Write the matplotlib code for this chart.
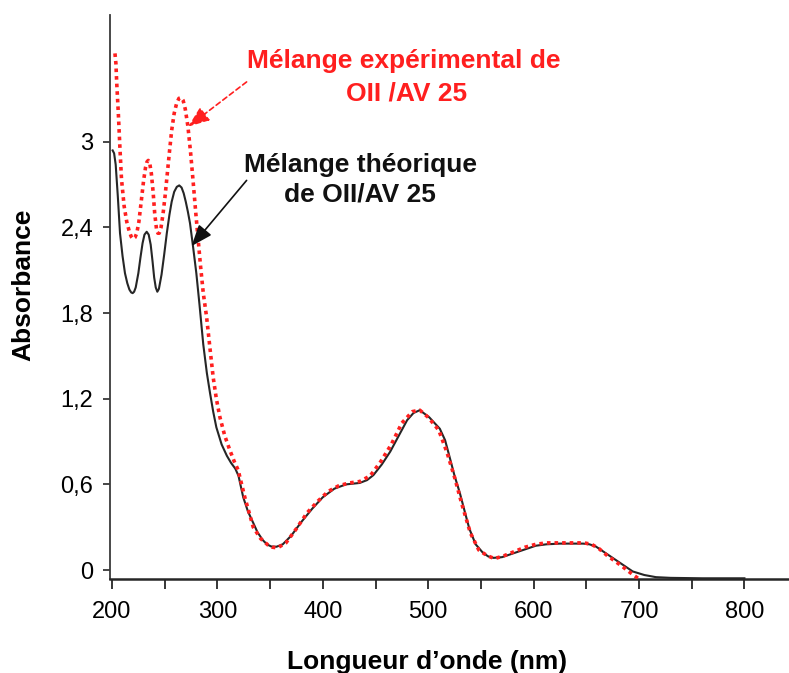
import matplotlib.pyplot as plt

plt.rcParams['font.family'] = ['Liberation Sans', 'DejaVu Sans']

# 흡광 스펙트럼 데이터 (파장 nm, 흡광도)
wl_theo = [200.6, 202, 203.5, 205.5, 207.6, 210, 212.3, 214.5, 216.5, 218.2,
           219.6, 221, 222.5, 225, 227, 229, 230.8, 232.9, 234.8, 236.7,
           238.5, 240, 241.5, 243, 244.5, 247, 249.5, 252, 254.5, 256.6,
           259, 261.5, 263.8, 266, 268, 270, 272, 274, 277, 280,
           283, 286.6, 290, 293, 296, 299, 304, 309, 313, 317,
           320, 324.5, 329, 334, 338, 343, 347, 351, 356, 362,
           370, 380, 390, 400, 411, 422, 435, 442, 448, 456,
           464, 472, 480, 486, 492, 501, 511, 516, 520, 525,
           530, 535, 539, 545, 552, 557, 562, 570, 580, 590,
           602, 612, 625, 636, 647, 653, 659, 666, 672, 678,
           686, 694, 705, 716, 730, 760, 800]
abs_theo = [2.94, 2.92, 2.84, 2.62, 2.36, 2.2, 2.08, 2.01, 1.965, 1.945,
            1.94, 1.95, 1.98, 2.08, 2.19, 2.29, 2.35, 2.37, 2.35, 2.28,
            2.16, 2.05, 1.98, 1.95, 1.97, 2.07, 2.21, 2.36, 2.49, 2.58,
            2.65, 2.685, 2.695, 2.68, 2.64, 2.58, 2.51, 2.43, 2.26, 2.08,
            1.86, 1.58, 1.38, 1.24, 1.11, 1.00, 0.88, 0.80, 0.75, 0.71,
            0.66, 0.51, 0.41, 0.33, 0.265, 0.21, 0.18, 0.165, 0.163, 0.18,
            0.24, 0.34, 0.43, 0.51, 0.57, 0.60, 0.61, 0.63, 0.665, 0.74,
            0.83, 0.94, 1.05, 1.10, 1.12, 1.07, 0.99, 0.91, 0.80, 0.66,
            0.54, 0.40, 0.29, 0.18, 0.12, 0.095, 0.085, 0.09, 0.115, 0.14,
            0.17, 0.18, 0.185, 0.185, 0.185, 0.18, 0.165, 0.13, 0.10, 0.07,
            0.03, -0.01, -0.035, -0.05, -0.055, -0.058, -0.058]

wl_exp = [202.8, 203.7, 204.5, 206, 207.5, 209, 211.5, 214, 216.5, 218.3,
          220, 221.8, 223.5, 225.5, 228, 230, 231.8, 233.2, 234.4, 235.8,
          237.3, 239, 240.5, 242.2, 243.5, 244.8, 246.5, 248.5, 250.5, 252.5,
          254.5, 256.6, 259, 261.3, 263.5, 265.5, 267.5, 269.5, 272, 274.5,
          277, 279.5, 281.8, 284, 286.6, 289.8, 293, 296, 299, 302.4,
          307, 311.8, 316, 319.7, 326, 334, 341, 348, 352, 357,
          365, 375, 385, 395, 405, 415, 425, 435, 445, 455,
          465, 475, 485, 492, 500, 510, 518, 525, 532, 540,
          548, 556, 563, 572, 582, 592, 602, 612, 625, 637,
          648, 655, 662, 670, 678, 685, 692, 699]
abs_exp = [3.62, 3.55, 3.41, 3.2, 2.96, 2.74, 2.55, 2.44, 2.37, 2.335,
           2.32, 2.33, 2.36, 2.44, 2.6, 2.73, 2.82, 2.86, 2.87, 2.85,
           2.78, 2.65, 2.5, 2.39, 2.36, 2.36, 2.4, 2.5, 2.63, 2.78,
           2.93, 3.08, 3.2, 3.27, 3.305, 3.31, 3.29, 3.23, 3.11, 2.93,
           2.72, 2.5, 2.31, 2.13, 1.94, 1.77, 1.55, 1.35, 1.2, 1.07,
           0.94, 0.84, 0.76, 0.70, 0.51, 0.30, 0.22, 0.175, 0.16, 0.155,
           0.19, 0.29, 0.40, 0.48, 0.55, 0.59, 0.61, 0.62, 0.66, 0.76,
           0.88, 1.03, 1.11, 1.12, 1.07, 0.98, 0.82, 0.65, 0.46, 0.26,
           0.14, 0.10, 0.08, 0.10, 0.13, 0.16, 0.18, 0.19, 0.19, 0.19,
           0.19, 0.18, 0.15, 0.10, 0.058, 0.02, -0.02, -0.058]

y_ticks = [0, 0.6, 1.2, 1.8, 2.4, 3]
y_ticklabels = ['0', '0,6', '1,2', '1,8', '2,4', '3']
x_ticks = [200, 300, 400, 500, 600, 700, 800]
x_minor = [250, 350, 450, 550, 650, 750]

red = '#ff1f1f'
dark = '#262626'

fig = plt.figure(figsize=(7.89, 6.73), dpi=100)
ax = fig.add_axes([110 / 789, 1 - 579 / 673, 679 / 789, 564 / 673])

# 이론 혼합 (실선) / 실험 혼합 (점선)
ax.plot(wl_theo, abs_theo, color=dark, lw=1.5, zorder=2,
        solid_joinstyle='round')
ax.plot(wl_exp, abs_exp, color=red, lw=2.6, linestyle=(0, (1, 1.1)), zorder=3)

ax.set_xlim(198.1, 842.3)
ax.set_ylim(-0.063, 3.889)

for side in ['top', 'right']:
    ax.spines[side].set_visible(False)
ax.spines['left'].set_color('#3a3a3a')
ax.spines['left'].set_linewidth(1.3)
ax.spines['bottom'].set_color(dark)
ax.spines['bottom'].set_linewidth(1.8)

ax.set_yticks(y_ticks)
ax.set_yticklabels(y_ticklabels)
ax.set_xticks(x_ticks)
ax.set_xticks(x_minor, minor=True)
ax.tick_params(axis='y', direction='out', length=5, width=1.2,
               color=dark, labelsize=17, pad=7)
ax.tick_params(axis='x', which='both', direction='out', length=7, width=1.3,
               color=dark, labelsize=17, pad=9)

fig.text(23 / 789, 1 - 285 / 673, 'Absorbance', rotation=90,
         ha='center', va='center', fontsize=19, fontweight='bold')
fig.text(427 / 789, 1 - 669 / 673, 'Longueur d\u2019onde (nm)',
         ha='center', va='baseline', fontsize=19, fontweight='bold')

# 주석 텍스트
ax.text(476.5, 3.518, 'Mélange expérimental de', color=red, ha='center',
        va='baseline', fontsize=19, fontweight='bold')
ax.text(479, 3.289, 'OII /AV 25', color=red, ha='center',
        va='baseline', fontsize=19, fontweight='bold')
ax.text(435.3, 2.792, 'Mélange théorique', color='#111111', ha='center',
        va='baseline', fontsize=19, fontweight='bold')
ax.text(435.3, 2.581, 'de OII/AV 25', color='#111111', ha='center',
        va='baseline', fontsize=19, fontweight='bold')

ax.annotate('', xy=(272.3, 3.107), xytext=(327.7, 3.42),
            arrowprops=dict(arrowstyle='-|>,head_length=0.65,head_width=0.25',
                            mutation_scale=20, color=red, lw=1.2,
                            linestyle=(0, (3, 2)), shrinkA=0, shrinkB=0))
ax.annotate('', xy=(275.5, 2.27), xytext=(327.7, 2.73),
            arrowprops=dict(arrowstyle='-|>,head_length=0.65,head_width=0.25',
                            mutation_scale=20, color='#111111', lw=1.2,
                            shrinkA=0, shrinkB=0))

fig.savefig('out.png', dpi=100)
